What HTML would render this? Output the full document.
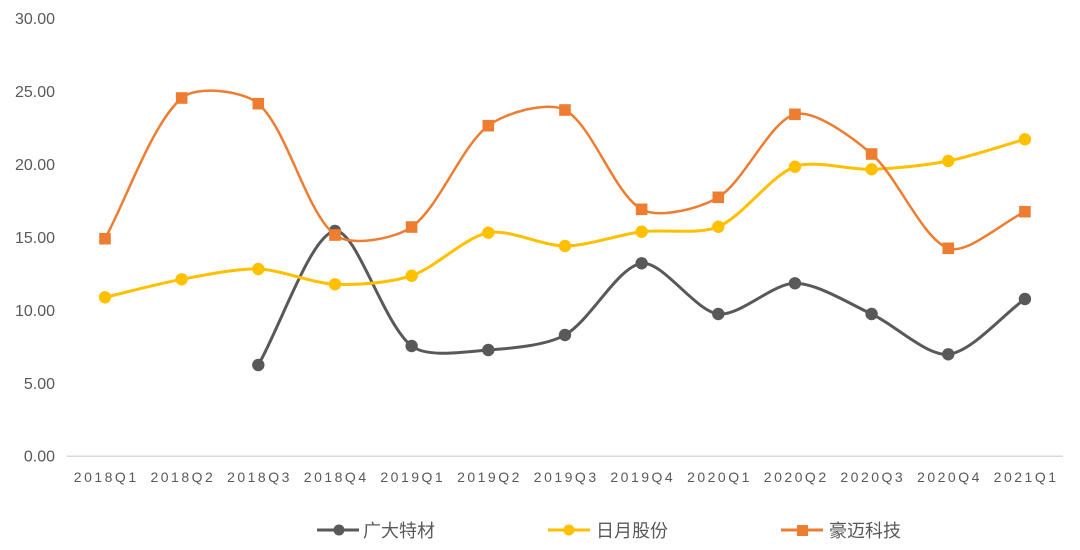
<!DOCTYPE html>
<html>
<head>
<meta charset="utf-8">
<style>
html,body{margin:0;padding:0;background:#fff;}
svg{display:block;}
.yl{font-family:"Liberation Sans","Noto Sans CJK SC",sans-serif;font-size:16px;fill:#595959;text-anchor:end;}
.xl{font-family:"Liberation Sans","Noto Sans CJK SC",sans-serif;font-size:14px;fill:#595959;text-anchor:middle;letter-spacing:2.5px;}
.lg{font-family:"Liberation Sans","Noto Sans CJK SC",sans-serif;font-size:18px;fill:#595959;}
</style>
</head>
<body>
<svg id="c" width="1080" height="550" viewBox="0 0 1080 550" xmlns="http://www.w3.org/2000/svg">
<rect width="1080" height="550" fill="#fff"/>
<g>
<text class="yl" x="55" y="24">30.00</text>
<text class="yl" x="55" y="97">25.00</text>
<text class="yl" x="55" y="170">20.00</text>
<text class="yl" x="55" y="243">15.00</text>
<text class="yl" x="55" y="316">10.00</text>
<text class="yl" x="55" y="389">5.00</text>
<text class="yl" x="55" y="461.5">0.00</text>
</g>
<line x1="66.7" y1="456.3" x2="1063" y2="456.3" stroke="#d9d9d9" stroke-width="1.5"/>
<g>
<text class="xl" x="106.2" y="482">2018Q1</text>
<text class="xl" x="182.9" y="482">2018Q2</text>
<text class="xl" x="259.5" y="482">2018Q3</text>
<text class="xl" x="336.2" y="482">2018Q4</text>
<text class="xl" x="412.8" y="482">2019Q1</text>
<text class="xl" x="489.5" y="482">2019Q2</text>
<text class="xl" x="566.2" y="482">2019Q3</text>
<text class="xl" x="642.8" y="482">2019Q4</text>
<text class="xl" x="719.5" y="482">2020Q1</text>
<text class="xl" x="796.2" y="482">2020Q2</text>
<text class="xl" x="872.8" y="482">2020Q3</text>
<text class="xl" x="949.5" y="482">2020Q4</text>
<text class="xl" x="1026.1" y="482">2021Q1</text>
</g>
<g id="series"></g>
<!-- legend -->
<g>
<line x1="317" y1="530" x2="359" y2="530" stroke="#595959" stroke-width="3"/>
<circle cx="339" cy="530" r="5.5" fill="#595959"/>
<text class="lg" x="363" y="537">广大特材</text>
<line x1="548" y1="530" x2="590" y2="530" stroke="#FFC000" stroke-width="3"/>
<circle cx="569" cy="530" r="5.5" fill="#FFC000"/>
<text class="lg" x="596" y="537">日月股份</text>
<line x1="781" y1="530" x2="823" y2="530" stroke="#ED7D31" stroke-width="3"/>
<rect x="797" y="525" width="11" height="11" fill="#ED7D31"/>
<text class="lg" x="829" y="537">豪迈科技</text>
</g>
</svg>
<script>
(function(){
var NS="http://www.w3.org/2000/svg";
var xs=[];for(var i=0;i<13;i++)xs.push(105+76.66*i);
var gray=[null,null,365,231,346,350,335,263.3,314,283.3,314,354.3,299];
var yel=[297.3,279.3,269,284.3,275.7,232.7,246,231.7,226.7,166.7,169.3,161,139.3];
var ora=[238.7,98,103.7,235,227,125.7,110,209.3,197.3,114.3,154,248.3,211.7];
function pts(a){var r=[];for(var i=0;i<a.length;i++)if(a[i]!==null)r.push([xs[i],a[i]]);return r;}
function dist(a,b){return Math.sqrt((a[0]-b[0])*(a[0]-b[0])+(a[1]-b[1])*(a[1]-b[1]));}
var K=0.29;
function path(p){
var d="M"+p[0][0].toFixed(1)+","+p[0][1].toFixed(1);
for(var i=0;i<p.length-1;i++){
var P0=p[i-1]||p[i],P1=p[i],P2=p[i+1],P3=p[i+2]||p[i+1];
var d01=dist(P0,P1),d12=dist(P1,P2),d23=dist(P2,P3);
var f1=d12/(d01+d12)*K,f2=d12/(d12+d23)*K;
var c1=[P1[0]+(P2[0]-P0[0])*f1,P1[1]+(P2[1]-P0[1])*f1];
var c2=[P2[0]-(P3[0]-P1[0])*f2,P2[1]-(P3[1]-P1[1])*f2];
d+=" C"+c1[0].toFixed(1)+","+c1[1].toFixed(1)+" "+c2[0].toFixed(1)+","+c2[1].toFixed(1)+" "+P2[0].toFixed(1)+","+P2[1].toFixed(1);
}
return d;}
var g=document.getElementById("series");
function add(a,color,w,marker){
var p=pts(a);
var pa=document.createElementNS(NS,"path");
pa.setAttribute("d",path(p));pa.setAttribute("fill","none");pa.setAttribute("stroke",color);
pa.setAttribute("stroke-width",w);pa.setAttribute("stroke-linejoin","round");pa.setAttribute("stroke-linecap","round");
g.appendChild(pa);
p.forEach(function(q){
var m;
if(marker==="c"){m=document.createElementNS(NS,"circle");m.setAttribute("cx",q[0]);m.setAttribute("cy",q[1]);m.setAttribute("r",6.2);}
else{m=document.createElementNS(NS,"rect");m.setAttribute("x",q[0]-5.8);m.setAttribute("y",q[1]-5.8);m.setAttribute("width",11.6);m.setAttribute("height",11.6);}
m.setAttribute("fill",color);g.appendChild(m);
});
}
add(gray,"#595959",3,"c");
add(yel,"#FFC000",3,"c");
add(ora,"#ED7D31",2.5,"s");
})();
</script>
</body>
</html>
